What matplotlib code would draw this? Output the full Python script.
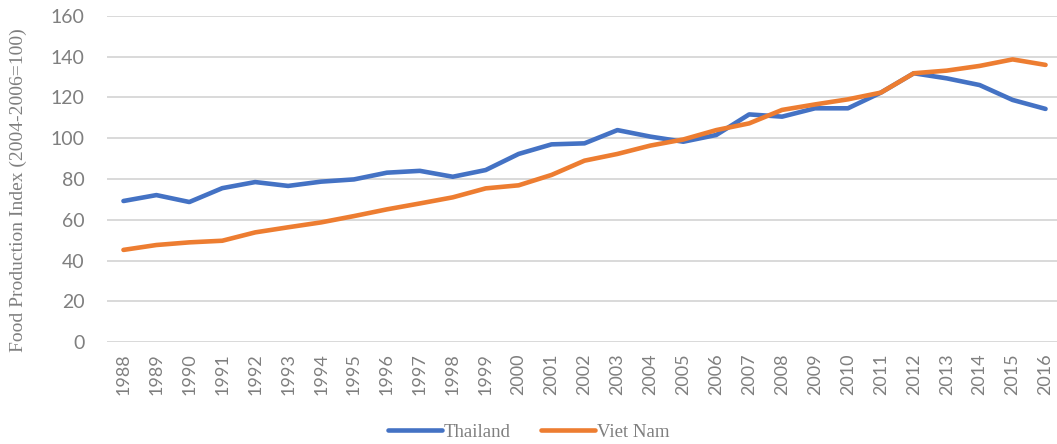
import matplotlib.pyplot as plt

# food production index, 2004-2006 = 100
years = list(range(1988, 2017))
thailand = [69.2, 72.1, 68.7, 75.5, 78.5, 76.6, 78.7, 79.8, 83.1, 84.0,
            81.1, 84.4, 92.3, 97.0, 97.5, 104.0, 100.8, 98.3, 101.6, 111.7,
            110.6, 114.7, 114.7, 122.4, 131.9, 129.4, 126.1, 118.8, 114.4]
vietnam = [45.2, 47.6, 48.9, 49.7, 53.8, 56.3, 58.7, 61.8, 65.1, 68.0,
           71.0, 75.4, 76.9, 82.0, 89.0, 92.3, 96.4, 99.4, 104.0, 107.3,
           113.9, 116.6, 119.1, 122.4, 131.9, 133.2, 135.5, 138.7, 136.0]
yticks = list(range(0, 161, 20))

grey = "#7f7f7f"
serif = ["Liberation Serif", "DejaVu Serif"]

fig = plt.figure(figsize=(10.57, 4.44), dpi=100)
ax = fig.add_axes([107 / 1057, 1 - 342 / 444, 955 / 1057, 326 / 444])

ax.plot(years, thailand, color="#4472C4", lw=3.3, label="Thailand",
        solid_joinstyle="round", solid_capstyle="round")
ax.plot(years, vietnam, color="#ED7D31", lw=3.3, label="Viet Nam",
        solid_joinstyle="round", solid_capstyle="round")

ax.set_xlim(1987.5, 2016.5)
ax.set_ylim(0, 160)
ax.set_yticks(yticks)
ax.set_xticks(years)
ax.set_xticklabels([str(y) for y in years], rotation=90)
ax.grid(axis="y", color="#d9d9d9", lw=1.4)
ax.set_axisbelow(True)
for s in ax.spines.values():
    s.set_visible(False)
ax.tick_params(axis="both", length=0, colors=grey)
ax.tick_params(axis="y", pad=16, labelsize=14)
ax.tick_params(axis="x", pad=8, labelsize=13)
for lab in ax.get_xticklabels() + ax.get_yticklabels():
    lab.set_family(["Lato", "DejaVu Sans"])

fig.text(18 / 1057, 1 - 190 / 444, "Food Production Index (2004-2006=100)",
         rotation=90, ha="center", va="center", color=grey,
         family=serif, fontsize=14)

fig.legend(loc="center", bbox_to_anchor=(0.5, 1 - 432 / 444), ncol=2,
           frameon=False, handlelength=2.9, handletextpad=0.1,
           columnspacing=1.6, prop={"family": serif, "size": 13.5},
           labelcolor=grey)

fig.savefig("out.png", dpi=100)
